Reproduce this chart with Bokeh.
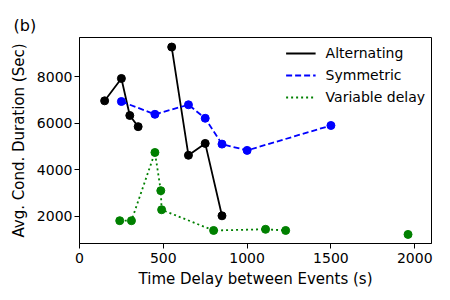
import math
from bokeh.plotting import figure
from bokeh.models import FixedTicker, Legend, LegendItem, Range1d
from bokeh.embed import file_html
from bokeh.resources import INLINE

nan = float("nan")

# Alternating (black, solid) - gap between 350 and 550
alt_x = [150, 250, 300, 350, nan, 550, 650, 750, 850]
alt_y = [6960, 7920, 6330, 5850, nan, 9270, 4620, 5130, 2020]

# Symmetric (blue, dashed)
sym_x = [250, 450, 650, 750, 850, 1000, 1500]
sym_y = [6930, 6380, 6790, 6210, 5100, 4830, 5900]

# Variable delay (green, dotted) - last point not connected
var_x = [240, 310, 450, 485, 490, 800, 1110, 1230, nan, 1960]
var_y = [1810, 1810, 4740, 3100, 2280, 1390, 1440, 1390, nan, 1220]

x_ticks = [0, 500, 1000, 1500, 2000]
y_ticks = [2000, 4000, 6000, 8000]

FONT = "DejaVu Sans"

p = figure(width=450, height=300, output_backend="svg", toolbar_location=None,
           x_range=Range1d(0, 2100), y_range=Range1d(830, 9680),
           min_border_left=79, min_border_right=19, min_border_top=37, min_border_bottom=57)

p.title.text = "(b)"
p.title.align = "left"
p.title.offset = -66
p.title.text_font = FONT
p.title.text_font_size = "16px"
p.title.text_font_style = "normal"
p.title.text_color = "black"
p.title.standoff = 6

p.grid.visible = False
p.outline_line_color = "black"
p.outline_line_width = 1

for ax in (p.xaxis[0], p.yaxis[0]):
    ax.major_label_text_font = FONT
    ax.major_label_text_font_size = "14px"
    ax.axis_label_text_font = FONT
    ax.axis_label_text_font_size = "15px"
    ax.axis_label_text_font_style = "normal"
    ax.minor_tick_line_color = None
    ax.major_tick_out = 5
    ax.major_tick_in = 0
    ax.axis_line_color = "black"
    ax.major_tick_line_color = "black"
    ax.major_label_text_color = "black"
    ax.axis_label_text_color = "black"

p.xaxis.ticker = FixedTicker(ticks=x_ticks)
p.yaxis.ticker = FixedTicker(ticks=y_ticks)
p.xaxis.axis_label = "Time Delay between Events (s)"
p.yaxis.axis_label = "Avg. Cond. Duration (Sec)"
p.xaxis.major_label_standoff = 4
p.yaxis.major_label_standoff = 2
p.xaxis.axis_label_standoff = 4
p.yaxis.axis_label_standoff = 6

l1 = p.line(alt_x, alt_y, line_color="black", line_width=1.8)
p.scatter(alt_x, alt_y, marker="circle", size=8, color="black")
l2 = p.line(sym_x, sym_y, line_color="#0000ff", line_width=1.8, line_dash="6 3")
p.scatter(sym_x, sym_y, marker="circle", size=8, color="#0000ff")
l3 = p.line(var_x, var_y, line_color="#008000", line_width=1.8, line_dash="2 3")
p.scatter(var_x, var_y, marker="circle", size=8, color="#008000")

legend = Legend(items=[
    LegendItem(label="Alternating", renderers=[l1]),
    LegendItem(label="Symmetric", renderers=[l2]),
    LegendItem(label="Variable delay", renderers=[l3]),
], location="top_right")
legend.border_line_alpha = 0
legend.background_fill_alpha = 0
legend.label_text_font = FONT
legend.label_text_font_size = "14px"
legend.label_text_color = "black"
legend.glyph_width = 30
legend.glyph_height = 20
legend.label_height = 20
legend.spacing = 2
legend.label_standoff = 10
legend.margin = 0
legend.padding = 6
p.add_layout(legend)

open("out.html", "w").write(file_html(p, INLINE))
